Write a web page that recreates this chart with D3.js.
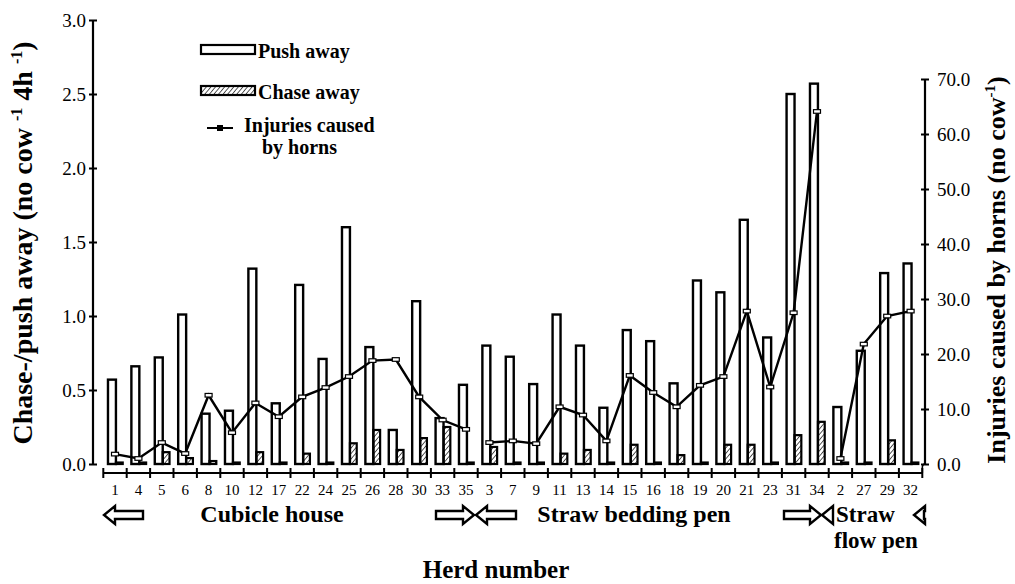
<!DOCTYPE html>
<html>
<head>
<meta charset="utf-8">
<script src="https://cdn.jsdelivr.net/npm/d3@7"></script>
<style>
  body { margin: 0; background: #fff; }
</style>
</head>
<body>
<svg id="chart" width="1015" height="584"></svg>
<script>
// herds grouped by housing system, in the order of the x axis
const cubicleHerds = ['1', '4', '5', '6', '8', '10', '12', '17', '22', '24', '25', '26', '28', '30', '33', '35'];
const beddingHerds = ['3', '7', '9', '11', '13', '14', '15', '16', '18', '19', '20', '21', '23', '31', '34'];
const flowHerds = ['2', '27', '29', '32'];
const herds = cubicleHerds.concat(beddingHerds, flowHerds);

// no cow-1 4h-1
const pushAway = [0.57, 0.66, 0.72, 1.01, 0.34, 0.36, 1.32, 0.41, 1.21, 0.71, 1.60, 0.79, 0.23, 1.10, 0.31, 0.535,
  0.80, 0.725, 0.54, 1.01, 0.80, 0.38, 0.905, 0.83, 0.545, 1.24, 1.16, 1.65, 0.855, 2.50, 2.57,
  0.385, 0.765, 1.29, 1.355];
const chaseAway = [0.01, 0.01, 0.08, 0.04, 0.02, 0.01, 0.08, 0.01, 0.07, 0.01, 0.14, 0.23, 0.095, 0.175, 0.25, 0.01,
  0.115, 0.01, 0.01, 0.07, 0.095, 0.01, 0.13, 0.01, 0.06, 0.01, 0.13, 0.13, 0.01, 0.195, 0.285,
  0.01, 0.01, 0.16, 0.01];
// no cow-1
const injuries = [1.8, 1.0, 3.9, 1.9, 12.5, 5.7, 11.1, 8.6, 12.2, 13.9, 15.9, 18.8, 19.0, 12.2, 8.0, 6.3,
  3.9, 4.2, 3.7, 10.4, 8.9, 4.2, 16.1, 13.0, 10.4, 14.3, 15.9, 27.8, 14.0, 27.5, 64.1,
  1.0, 21.8, 26.9, 27.8];

const leftTicks = [0, 0.5, 1.0, 1.5, 2.0, 2.5, 3.0];
const rightTicks = [0, 10, 20, 30, 40, 50, 60, 70];

const serif = "'Liberation Serif', 'Times New Roman', Times, 'DejaVu Serif', serif";

const svg = d3.select('#chart');

const x = d3.scaleBand().domain(herds).range([103.3, 922.3]);
const yL = d3.scaleLinear().domain([0, 3]).range([464, 20]);
const yR = d3.scaleLinear().domain([0, 70]).range([464, 79]);
const bw = x.bandwidth();

// hatch for chase away
svg.append('defs').append('pattern')
    .attr('id', 'hatch')
    .attr('patternUnits', 'userSpaceOnUse')
    .attr('width', 3.5).attr('height', 3.5)
    .attr('patternTransform', 'rotate(40)')
  .append('line')
    .attr('x1', 0).attr('y1', 0).attr('x2', 0).attr('y2', 3.5)
    .attr('stroke', '#000').attr('stroke-width', 1.3);

const rows = herds.map((h, i) => ({ herd: h, push: pushAway[i], chase: chaseAway[i], inj: injuries[i] }));

// push away bars
svg.append('g').selectAll('rect')
  .data(rows)
  .enter().append('rect')
    .attr('x', d => x(d.herd) + bw * 0.2)
    .attr('width', bw * 0.34)
    .attr('y', d => yL(d.push))
    .attr('height', d => yL(0) - yL(d.push))
    .attr('fill', '#fff')
    .attr('stroke', '#000')
    .attr('stroke-width', 2.4);

// chase away bars
svg.append('g').selectAll('rect')
  .data(rows)
  .enter().append('rect')
    .attr('x', d => x(d.herd) + bw * 0.54)
    .attr('width', bw * 0.29)
    .attr('y', d => yL(d.chase))
    .attr('height', d => yL(0) - yL(d.chase))
    .attr('fill', 'url(#hatch)')
    .attr('stroke', '#000')
    .attr('stroke-width', 2.2);

// injuries line, broken between housing systems
const line = d3.line()
    .x(d => x(d.herd) + bw / 2)
    .y(d => yR(d.inj));

[cubicleHerds, beddingHerds, flowHerds].forEach(group => {
  svg.append('path')
      .datum(rows.filter(r => group.includes(r.herd)))
      .attr('d', line)
      .attr('fill', 'none')
      .attr('stroke', '#000')
      .attr('stroke-width', 2.4);
});

svg.append('g').selectAll('rect')
  .data(rows)
  .enter().append('rect')
    .attr('x', d => x(d.herd) + bw / 2 - 3.5)
    .attr('y', d => yR(d.inj) - 1.8)
    .attr('width', 7)
    .attr('height', 3.6)
    .attr('fill', '#fff')
    .attr('stroke', '#000')
    .attr('stroke-width', 1.2);

// left axis
const axL = svg.append('g')
    .attr('transform', 'translate(93,0)')
    .call(d3.axisLeft(yL).tickValues(leftTicks).tickFormat(d3.format('.1f')).tickSize(4).tickPadding(3));
axL.select('.domain').attr('d', `M0,${yL(0)}V${yL(3)}`).attr('stroke-width', 2.2);
axL.selectAll('.tick line').attr('x1', -4).attr('x2', 4).attr('stroke-width', 2);
axL.selectAll('.tick text').style('font-size', '19px');

// right axis
const axR = svg.append('g')
    .attr('transform', 'translate(925,0)')
    .call(d3.axisRight(yR).tickValues(rightTicks).tickFormat(d3.format('.1f')).tickSize(4).tickPadding(8));
axR.select('.domain').attr('d', `M0,${yR(0)}V${yR(70)}`).attr('stroke-width', 2.2);
axR.selectAll('.tick line').attr('x1', -4).attr('x2', 4).attr('stroke-width', 2);
axR.selectAll('.tick text').style('font-size', '19px');

// bottom category axis: ticks at band edges, labels at centres
const axB = svg.append('g').attr('transform', 'translate(0,473)');
const [x0, x1] = x.range();
axB.append('line')
    .attr('x1', x0).attr('x2', x1)
    .attr('stroke', '#000').attr('stroke-width', 2.2);
axB.selectAll('.edge')
  .data(herds.map(h => x(h)).concat([x1]))
  .enter().append('line')
    .attr('x1', d => d).attr('x2', d => d)
    .attr('y1', -5).attr('y2', 5)
    .attr('stroke', '#000').attr('stroke-width', 2);
axB.append('path')
    .attr('d', `M${x1},0 V-5 Q${x1},-9 925,-9`)
    .attr('fill', 'none').attr('stroke', '#000').attr('stroke-width', 1.6);
axB.selectAll('.lbl')
  .data(herds)
  .enter().append('text')
    .attr('x', d => x(d) + bw / 2)
    .attr('y', 22)
    .attr('text-anchor', 'middle')
    .style('font-size', '15px')
    .text(d => d);

// axis titles
const titleL = svg.append('text')
    .attr('transform', 'translate(32,243) rotate(-90)')
    .attr('text-anchor', 'middle')
    .style('font-size', '28px').style('font-weight', 'bold');
titleL.append('tspan').text('Chase-/push away (no cow ');
titleL.append('tspan').attr('dy', -10).style('font-size', '16px').text('-1');
titleL.append('tspan').attr('dy', 10).text(' 4h ');
titleL.append('tspan').attr('dy', -10).style('font-size', '16px').text('-1');
titleL.append('tspan').attr('dy', 10).text(')');

const titleR = svg.append('text')
    .attr('transform', 'translate(1005,270) rotate(-90)')
    .attr('text-anchor', 'middle')
    .style('font-size', '26px').style('font-weight', 'bold');
titleR.append('tspan').text('Injuries caused by horns (no cow');
titleR.append('tspan').attr('dy', -10).style('font-size', '15px').text('-1');
titleR.append('tspan').attr('dy', 10).text(')');

svg.append('text')
    .attr('x', 496).attr('y', 578)
    .attr('text-anchor', 'middle')
    .style('font-size', '25px').style('font-weight', 'bold')
    .text('Herd number');

// legend
const lg = svg.append('g');
lg.append('rect').attr('x', 201).attr('y', 45).attr('width', 54).attr('height', 9)
    .attr('fill', '#fff').attr('stroke', '#000').attr('stroke-width', 2.2);
lg.append('text').attr('x', 258).attr('y', 58).style('font-size', '20px').style('font-weight', 'bold').text('Push away');
lg.append('rect').attr('x', 201).attr('y', 86).attr('width', 54).attr('height', 9)
    .attr('fill', 'url(#hatch)').attr('stroke', '#000').attr('stroke-width', 2.2);
lg.append('text').attr('x', 258).attr('y', 99).style('font-size', '20px').style('font-weight', 'bold').text('Chase away');
lg.append('line').attr('x1', 207).attr('x2', 233).attr('y1', 128).attr('y2', 128)
    .attr('stroke', '#000').attr('stroke-width', 2);
lg.append('rect').attr('x', 217).attr('y', 125).attr('width', 6).attr('height', 6).attr('fill', '#000');
lg.append('text').attr('x', 244).attr('y', 132).style('font-size', '20px').style('font-weight', 'bold').text('Injuries caused');
lg.append('text').attr('x', 262).attr('y', 154).style('font-size', '20px').style('font-weight', 'bold').text('by horns');

// housing system annotations
function arrow(xa, xb, y) {
  // hollow arrow with its head at xb
  const dir = xb > xa ? 1 : -1;
  const hl = 11 * dir;
  const p = d3.path();
  p.moveTo(xa, y - 4);
  p.lineTo(xb - hl, y - 4);
  p.lineTo(xb - hl, y - 9);
  p.lineTo(xb, y);
  p.lineTo(xb - hl, y + 9);
  p.lineTo(xb - hl, y + 4);
  p.lineTo(xa, y + 4);
  p.closePath();
  svg.append('path').attr('d', p.toString())
      .attr('fill', '#fff').attr('stroke', '#000').attr('stroke-width', 2.4);
}
arrow(143, 104, 515);
arrow(436, 474, 515);
arrow(516, 476, 515);
arrow(784, 821, 515);
arrow(833, 822, 515);
arrow(924, 914, 515);

svg.append('text').attr('x', 272).attr('y', 522).attr('text-anchor', 'middle')
    .style('font-size', '24px').style('font-weight', 'bold').text('Cubicle house');
svg.append('text').attr('x', 634).attr('y', 522).attr('text-anchor', 'middle')
    .style('font-size', '24px').style('font-weight', 'bold').text('Straw bedding pen');
svg.append('text').attr('x', 836).attr('y', 522)
    .style('font-size', '23px').style('font-weight', 'bold').text('Straw');
svg.append('text').attr('x', 834).attr('y', 548)
    .style('font-size', '23px').style('font-weight', 'bold').text('flow pen');

// serif everywhere, including the axis tick labels
svg.selectAll('text')
    .attr('font-family', serif)
    .style('font-family', serif)
    .attr('fill', '#000');
</script>
</body>
</html>
